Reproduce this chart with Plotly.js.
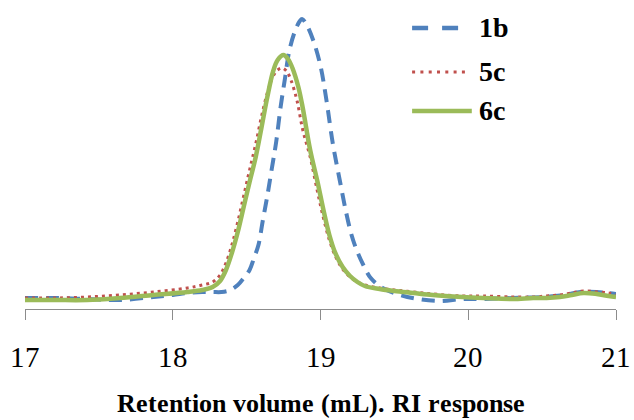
<!DOCTYPE html>
<html>
<head>
<meta charset="utf-8">
<script src="https://cdn.plot.ly/plotly-3.0.1.min.js"></script>
<style>
  @font-face { font-family: 'ChartSerif'; font-weight: 400; src: local('Liberation Serif'), local('LiberationSerif'); }
  @font-face { font-family: 'ChartSerif'; font-weight: 700; src: local('Liberation Serif Bold'), local('LiberationSerif-Bold'); }
  html, body { margin: 0; padding: 0; background: #fff; }
  #chart { width: 634px; height: 420px; }
</style>
</head>
<body>
<div id="chart"></div>
<script>
// GPC traces (refractive-index detector) for three samples.
const seriesNames = ['1b', '5c', '6c'];

// 1b
const x1b = [17.0, 17.2, 17.42, 17.64, 17.87, 18.0, 18.1, 18.2, 18.27, 18.33, 18.39, 18.44, 18.48, 18.52,
  18.55, 18.58, 18.61, 18.64, 18.67, 18.7, 18.73, 18.76, 18.79, 18.83, 18.86, 18.875, 18.9, 18.95, 19.0,
  19.04, 19.085, 19.13, 19.17, 19.21, 19.25, 19.29, 19.34, 19.42, 19.54, 19.66, 19.81, 19.96, 20.1, 20.3,
  20.5, 20.65, 20.76, 20.87, 20.95, 21.0];
const y1b = [2, 2, 1, 0, 3, 5, 7, 8, 8, 8, 10, 15, 22, 30,
  42, 55, 80, 104, 131, 158, 193, 222, 250, 270, 279, 281, 277, 260, 234,
  200, 155, 120, 90, 65, 48, 35, 22, 12, 5, 1, -1, 1, 1, 2,
  3, 5, 8, 8, 7, 6];

// 5c
const x5c = [17.0, 17.2, 17.42, 17.64, 17.87, 18.1, 18.2, 18.27, 18.32, 18.36, 18.4, 18.44, 18.48, 18.52,
  18.56, 18.6, 18.64, 18.68, 18.71, 18.74, 18.77, 18.8, 18.84, 18.88, 18.93, 18.98, 19.02, 19.06, 19.1,
  19.15, 19.2, 19.25, 19.3, 19.4, 19.5, 19.63, 19.76, 19.96, 20.1, 20.3, 20.44, 20.53, 20.62, 20.7,
  20.78, 20.87, 20.95, 21.0];
const y5c = [2, 2, 3, 5, 8, 12, 15, 18, 25, 37, 55, 78, 104, 130,
  155, 183, 207, 224, 230, 232, 229, 220, 200, 170, 143, 108, 82, 60, 44,
  31, 23, 18, 15, 12, 10, 8, 6, 4, 4, 3, 3, 4, 5, 7,
  9, 8, 7, 5];

// 6c
const x6c = [17.0, 17.2, 17.42, 17.64, 17.87, 18.1, 18.2, 18.27, 18.32, 18.36, 18.4, 18.44, 18.48, 18.52,
  18.56, 18.6, 18.64, 18.68, 18.71, 18.75, 18.78, 18.81, 18.85, 18.88, 18.93, 18.98, 19.02, 19.06, 19.1,
  19.15, 19.2, 19.25, 19.3, 19.4, 19.5, 19.63, 19.76, 19.96, 20.1, 20.3, 20.44, 20.53, 20.62, 20.7,
  20.78, 20.87, 20.95, 21.0];
const y6c = [0, 0, 0, 2, 5, 8, 10, 13, 19, 30, 47, 68, 93, 118,
  142, 172, 203, 229, 240, 245, 241, 232, 213, 192, 150, 118, 90, 65, 47,
  33, 24, 18, 14, 11, 9, 7, 5, 3, 2, 1, 2, 2, 3, 5,
  7, 6, 4, 3];

const xTicks = [17, 18, 19, 20, 21];

const colors = ['#4F81BD', '#C0504D', '#9BBB59'];
const fontFamily = 'ChartSerif';

const traces = [
  { x: x1b, y: y1b, name: seriesNames[0], type: 'scatter', mode: 'lines',
    line: { color: colors[0], width: 4, dash: '13px,8px', shape: 'spline', smoothing: 1 } },
  { x: x5c, y: y5c, name: seriesNames[1], type: 'scatter', mode: 'lines',
    line: { color: colors[1], width: 3, dash: '3px,4px', shape: 'spline', smoothing: 1 } },
  { x: x6c, y: y6c, name: seriesNames[2], type: 'scatter', mode: 'lines',
    line: { color: colors[2], width: 4.5, shape: 'spline', smoothing: 1 } }
];

// Key drawn in paper space so the sample lines can be longer than the default legend swatch.
const keyRows = [0.937, 0.79, 0.66];
const keyEnds = [0.733, 0.745, 0.756];
const keyDash = ['16px,14px', '3px,5.3px', 'solid'];
const keyWidth = [4.5, 3, 4.5];
const shapes = seriesNames.map((n, i) => ({
  type: 'line', xref: 'paper', yref: 'paper',
  x0: 0.655, x1: keyEnds[i], y0: keyRows[i], y1: keyRows[i],
  line: { color: colors[i], width: keyWidth[i], dash: keyDash[i] }
}));
const annotations = seriesNames.map((n, i) => ({
  xref: 'paper', yref: 'paper', x: 0.765, y: keyRows[i],
  xanchor: 'left', yanchor: 'middle', showarrow: false, text: '<b>' + n + '</b>',
  font: { family: fontFamily, size: 28, color: '#000' }
}));

const layout = {
  width: 634, height: 420,
  margin: { l: 25, r: 18, t: 9, b: 111 },
  paper_bgcolor: '#fff', plot_bgcolor: '#fff',
  font: { family: fontFamily, color: '#000' },
  showlegend: false,
  xaxis: {
    range: [17, 21], tickvals: xTicks, ticktext: xTicks.map(String),
    showgrid: false, zeroline: false,
    showline: true, linecolor: '#8C8C8C', linewidth: 1,
    ticks: 'outside', ticklen: 10, tickcolor: '#8C8C8C', tickwidth: 1,
    ticklabelstandoff: 12,
    tickfont: { family: fontFamily, size: 29, color: '#000' },
    title: { text: '<b>Retention volume (mL). RI response</b>', standoff: 22,
      font: { family: fontFamily, size: 26, color: '#000' } }
  },
  yaxis: { range: [-9, 291], visible: false, showgrid: false, zeroline: false },
  shapes: shapes,
  annotations: annotations
};

function draw() {
  Plotly.newPlot('chart', traces, layout, { displayModeBar: false });
}
if (document.fonts && document.fonts.load) {
  Promise.all([
    document.fonts.load('29px ChartSerif'),
    document.fonts.load('bold 28px ChartSerif')
  ]).then(draw, draw);
} else {
  draw();
}
</script>
</body>
</html>
